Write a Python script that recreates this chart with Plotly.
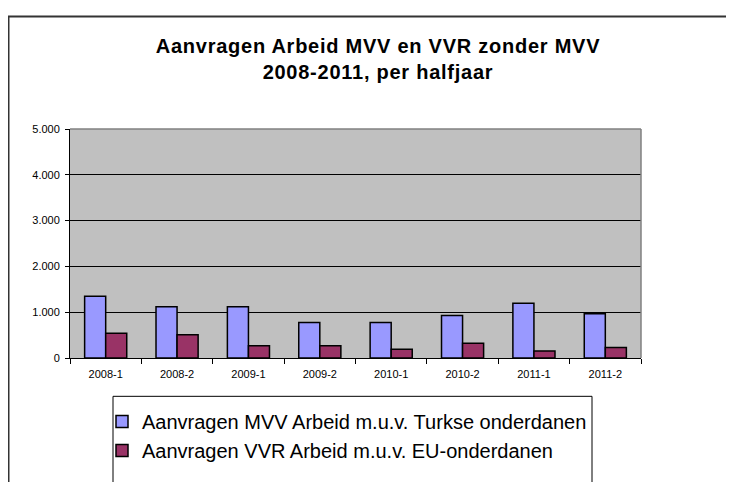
import plotly.graph_objects as go

categories = ["2008-1", "2008-2", "2009-1", "2009-2", "2010-1", "2010-2", "2011-1", "2011-2"]
mvv_arbeid = [1350, 1120, 1120, 775, 775, 930, 1195, 965]
vvr_arbeid = [540, 505, 265, 265, 190, 320, 155, 230]
series_names = ["Aanvragen MVV Arbeid m.u.v. Turkse onderdanen",
                "Aanvragen VVR Arbeid m.u.v. EU-onderdanen"]
y_ticks = [0, 1000, 2000, 3000, 4000, 5000]

# page body has an 8px margin: figure coordinates = screen coordinates - 8
W, H = 726, 474
L, R, T, B = 62, 633, 121, 360


def px(x):
    return (x - L) / (R - L)


def py(y):
    return (B - y) / (B - T)


fig = go.Figure()
fig.add_trace(go.Bar(x=categories, y=mvv_arbeid, name=series_names[0],
                     marker=dict(color="#9999FF", line=dict(color="#000000", width=1.5))))
fig.add_trace(go.Bar(x=categories, y=vvr_arbeid, name=series_names[1],
                     marker=dict(color="#993366", line=dict(color="#000000", width=1.5))))

font_family = "Liberation Sans"
title_text = ("<span style='letter-spacing:0.75px'>Aanvragen Arbeid MVV en VVR zonder MVV</span><br>"
              "<span style='letter-spacing:0.75px'>2008-2011, per halfjaar</span>")

fig.update_layout(
    width=W, height=H,
    margin=dict(l=L, r=W - R, t=T, b=H - B, pad=0),
    paper_bgcolor="white",
    plot_bgcolor="#C0C0C0",
    separators=",.",
    barmode="group",
    bargap=0.41,
    bargroupgap=0,
    font=dict(family=font_family, color="black"),
    title=dict(
        text=title_text,
        font=dict(family=font_family, size=20, color="black", weight="bold"),
        x=370 / W, xanchor="center",
        xref="container", yref="container", y=1 - 44.5 / H, yanchor="middle",
    ),
    xaxis=dict(
        type="category",
        showline=True, linecolor="black", linewidth=1,
        ticks="outside", tickson="boundaries", ticklen=5, tickcolor="black",
        ticklabelstandoff=6,
        tickfont=dict(size=11, family=font_family, color="black"),
        showgrid=False, fixedrange=True,
    ),
    yaxis=dict(
        range=[0, 5000], tickvals=y_ticks, tickformat=",d",
        showline=True, linecolor="black", linewidth=1,
        ticks="outside", ticklen=4, tickcolor="black",
        ticklabelstandoff=3,
        tickfont=dict(size=11, family=font_family, color="black"),
        showgrid=True, gridcolor="#000000", gridwidth=1,
        zeroline=False, fixedrange=True,
    ),
    legend=dict(
        x=px(94), xanchor="left", y=py(406), yanchor="top",
        bgcolor="rgba(0,0,0,0)", borderwidth=0,
        font=dict(size=20, family=font_family, color="black"),
        tracegroupgap=0,
    ),
    showlegend=True,
)

# plot area top/right border (gray)
fig.add_shape(type="line", xref="paper", yref="paper", x0=0, x1=1, y0=1, y1=1,
              line=dict(color="#808080", width=1.5), layer="above")
fig.add_shape(type="line", xref="paper", yref="paper", x0=1, x1=1, y0=0, y1=1,
              line=dict(color="#808080", width=1.5), layer="above")

# legend box
fig.add_shape(type="rect", xref="paper", yref="paper",
              x0=px(105), x1=px(584), y0=py(500), y1=py(400),
              line=dict(color="black", width=1), fillcolor="rgba(0,0,0,0)", layer="above")

# outer chart frame
fig.add_shape(type="rect", xref="paper", yref="paper",
              x0=px(0.5), x1=px(800), y0=py(520), y1=py(3.5),
              line=dict(color="#333333", width=2), fillcolor="rgba(0,0,0,0)", layer="below")

fig.write_html("out.html")
